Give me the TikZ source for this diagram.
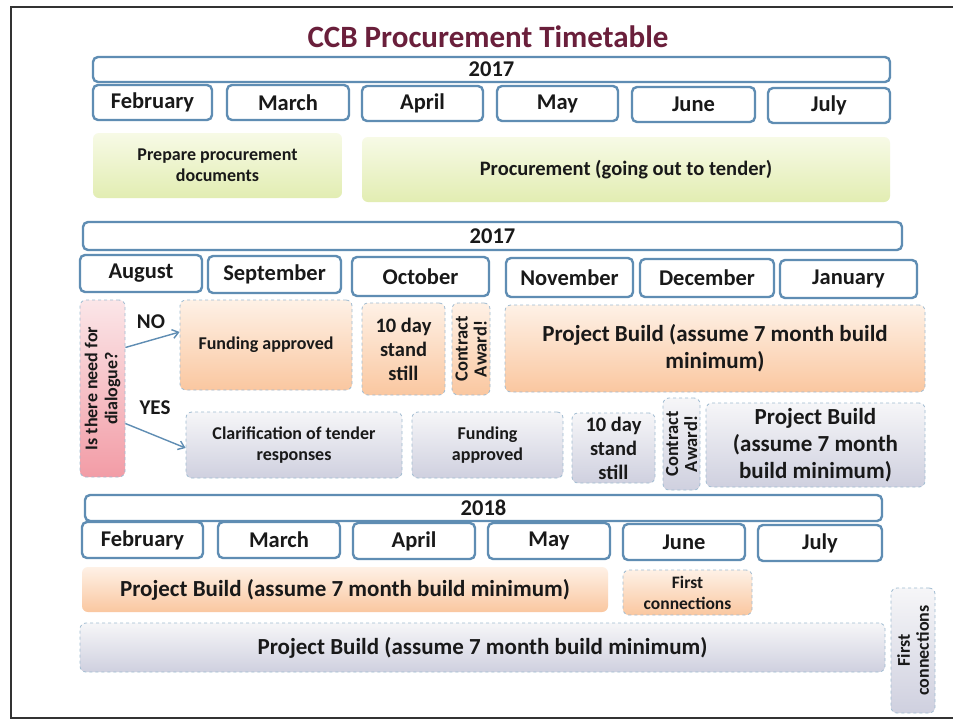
\documentclass[tikz,border=0pt]{standalone}
\usepackage{fontspec}
\setmainfont{Carlito}
\usetikzlibrary{arrows.meta}
\definecolor{bl}{HTML}{5F8DB3}
\definecolor{ttl}{HTML}{6A1F3B}
\definecolor{grT}{HTML}{F7FAE6}
\definecolor{grB}{HTML}{E2EDB2}
\definecolor{orT}{HTML}{FEF1E6}
\definecolor{orB}{HTML}{FAC7A0}
\definecolor{gyT}{HTML}{F6F6F8}
\definecolor{gyB}{HTML}{CFD0DF}
\definecolor{pkT}{HTML}{FBE6E8}
\definecolor{pkB}{HTML}{F29CA6}
\newcommand\fs[2]{\fontsize{#1}{#2}\selectfont}
\newcommand\bx[7]{\node[#2, minimum width={(#5-#3)*1pt}, minimum height={(#6-#4)*1pt}] (#1) at ({(#3+#5)/2},{(#4+#6)/2}) {#7};}
\tikzset{
  every node/.style={text=black!90},
  monthbox/.style={draw=bl, line width=2.4pt, rounded corners=5pt, fill=white, inner sep=0pt, font=\bfseries\fs{22.5}{27}},
  taskbox/.style={rounded corners=6pt, draw=bl!60, dashed, line width=0.8pt, inner sep=2pt, align=center},
  greenbox/.style={taskbox, draw=none, top color=grT, bottom color=grB},
  orangebox/.style={taskbox, top color=orT, bottom color=orB},
  graybox/.style={taskbox, top color=gyT, bottom color=gyB},
  pinkbox/.style={taskbox, top color=pkT, bottom color=pkB},
  flowarrow/.style={draw=bl, line width=1.4pt, -{Straight Barb[length=6pt,width=9pt]}},
  small/.style={font=\bfseries\fs{18}{21}},
  big/.style={font=\bfseries\fs{23}{27}},
  mid/.style={font=\bfseries\fs{20.5}{24}},
  rot/.style={rotate=90, align=center, font=\bfseries\fs{18.5}{19}},
}
\begin{document}
\begin{tikzpicture}[x=1pt,y=-1pt]
\useasboundingbox (0,0) rectangle (953,723);
\fill[white] (0,0) rectangle (953,723);
\draw[line width=2pt, black!80] (953,7) -- (11,7) -- (11,718) -- (953,718);
\node[font=\bfseries\fs{31}{34}, text=ttl] (title) at (488,37) {CCB Procurement Timetable};
% Row 1
\bx{yA}{monthbox}{93}{57}{890}{82}{2017}
\bx{febA}{monthbox}{93}{85}{212}{120}{February}
\bx{marA}{monthbox}{227}{85}{349}{120}{March}
\bx{aprA}{monthbox}{362}{86}{483}{121}{April}
\bx{mayA}{monthbox}{497}{86}{618}{121}{May}
\bx{junA}{monthbox}{632}{87}{755}{122}{June}
\bx{julA}{monthbox}{768}{88}{890}{123}{July}
\bx{prep}{greenbox,small}{93}{133}{342}{198}{Prepare procurement\\documents}
\bx{proc}{greenbox,font=\bfseries\fs{20.5}{24}}{362}{137}{890}{202}{Procurement (going out to tender)}
% Row 2
\bx{yB}{monthbox}{83}{222}{902}{250}{2017}
\bx{aug}{monthbox}{80}{255}{202}{292}{August}
\bx{sep}{monthbox}{208}{256}{341}{293}{September}
\bx{oct}{monthbox}{352}{257}{489}{296}{October}
\bx{nov}{monthbox}{506}{258}{633}{297}{November}
\bx{dec}{monthbox}{640}{259}{774}{297}{December}
\bx{jan}{monthbox}{780}{260}{917}{298}{January}
\bx{dlg}{pinkbox}{80}{300}{125}{477}{}
\node[rot, font=\bfseries\fs{18}{20}] (dlgtxt) at (dlg) {Is there need for\\dialogue?};
\bx{fundA}{orangebox,small}{180}{300}{352}{390}{Funding approved}
\bx{tenA}{orangebox,mid}{362}{303}{445}{395}{10 day\\stand\\still}
\bx{caA}{orangebox}{452}{303}{490}{395}{}
\node[rot] (caAtxt) at (caA) {Contract\\Award!};
\bx{pbA}{orangebox,big}{505}{305}{925}{392}{Project Build (assume 7 month build\\minimum)}
\bx{clar}{graybox,small}{186}{412}{402}{478}{Clarification of tender\\responses}
\bx{fundB}{graybox,small}{412}{412}{563}{478}{Funding\\approved}
\bx{tenB}{graybox,mid}{572}{413}{655}{483}{10 day\\stand\\still}
\bx{caB}{graybox}{663}{398}{700}{490}{}
\node[rot] (caBtxt) at (caB) {Contract\\Award!};
\bx{pbB}{graybox,big}{706}{403}{925}{487}{Project Build\\(assume 7 month\\build minimum)}
\node[font=\bfseries\fs{21}{24}] (no) at (151,322) {NO};
\node[font=\bfseries\fs{21}{24}] (yes) at (155,408) {YES};
\draw[flowarrow] ([yshift=41pt]dlg.east) -- ([yshift=13pt]fundA.west);
\draw[flowarrow] ([yshift=-35pt]dlg.east) -- ([yshift=-3pt]clar.west);
% Row 3
\bx{yC}{monthbox}{85}{495}{882}{521}{2018}
\bx{febC}{monthbox}{82}{522}{203}{558}{February}
\bx{marC}{monthbox}{218}{522}{340}{558}{March}
\bx{aprC}{monthbox}{353}{523}{475}{559}{April}
\bx{mayC}{monthbox}{488}{523}{610}{559}{May}
\bx{junC}{monthbox}{623}{524}{745}{560}{June}
\bx{julC}{monthbox}{758}{525}{882}{561}{July}
\bx{pbC}{orangebox,big,draw=none}{82}{567}{608}{612}{Project Build (assume 7 month build minimum)}
\bx{fcA}{orangebox,font=\bfseries\fs{17.5}{21}}{623}{570}{752}{615}{First\\connections}
\bx{pbD}{graybox,big}{80}{623}{885}{672}{Project Build (assume 7 month build minimum)}
\bx{fcB}{graybox}{891}{588}{935}{713}{}
\node[rot, font=\bfseries\fs{18}{19}] (fcBtxt) at (fcB) {First\\connections};
\end{tikzpicture}
\end{document}
